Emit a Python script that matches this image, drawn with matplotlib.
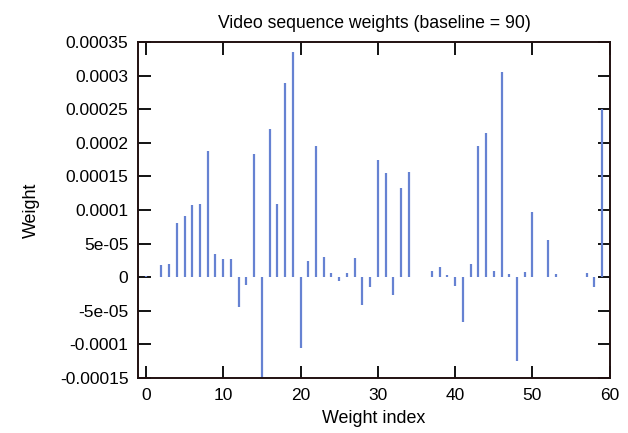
import matplotlib
matplotlib.use("Agg")
import matplotlib.pyplot as plt

plt.rcParams['font.family'] = ['Liberation Sans', 'DejaVu Sans']

# weight index -> weight value
idx = list(range(60))
weights = [
    2e-6, 1e-6, 1.84e-5, 1.94e-5, 8.06e-5, 9.05e-5, 1.08e-4, 1.09e-4, 1.88e-4, 3.48e-5,
    2.74e-5, 2.74e-5, -4.48e-5, -1.09e-5, 1.84e-4, -1.7e-4, 2.2e-4, 1.09e-4, 2.89e-4, 3.35e-4,
    -1.06e-4, 2.39e-5, 1.955e-4, 3.03e-5, 6e-6, -6e-6, 6.5e-6, 2.84e-5, -4.2e-5, -1.4e-5,
    1.74e-4, 1.55e-4, -2.7e-5, 1.33e-4, 1.57e-4, 1e-6, 1e-6, 9e-6, 1.54e-5, 4e-6,
    -1.34e-5, -6.6e-5, 1.9e-5, 1.95e-4, 2.15e-4, 8.5e-6, 3.06e-4, 4.5e-6, -1.24e-4, 7.5e-6,
    9.65e-5, 0.0, 5.6e-5, 5.5e-6, 0.0, 0.0, 0.0, 6.5e-6, -1.5e-5, 2.5e-4,
]

yticks = [0.00035, 0.0003, 0.00025, 0.0002, 0.00015, 0.0001, 5e-05, 0, -5e-05, -0.0001, -0.00015]
ytick_labels = ['0.00035', '0.0003', '0.00025', '0.0002', '0.00015', '0.0001',
                '5e-05', '0', '-5e-05', '-0.0001', '-0.00015']
xticks = [0, 10, 20, 30, 40, 50, 60]

fig = plt.figure(figsize=(6.28, 4.33), dpi=100)
ax = fig.add_axes([0.22, 0.127, 0.751, 0.776])

ax.vlines(idx, 0, weights, colors='#6682d2', linewidth=1.6)

ax.set_xlim(-1, 60)
ax.set_ylim(-0.00015, 0.00035)
ax.set_xticks(xticks)
ax.set_yticks(yticks)
ax.set_yticklabels(ytick_labels)
ax.tick_params(direction='in', length=9, width=1.3, top=True, right=True,
               labelsize=12.5, pad=7)
for s in ax.spines.values():
    s.set_linewidth(1.4)
    s.set_color('#201010')

ax.set_title('Video sequence weights (baseline = 90)', fontsize=12.7, pad=10)
ax.set_xlabel('Weight index', fontsize=12.9, labelpad=5)
ax.set_ylabel('Weight', fontsize=12.9, labelpad=14)

fig.savefig('out.png', dpi=100)
